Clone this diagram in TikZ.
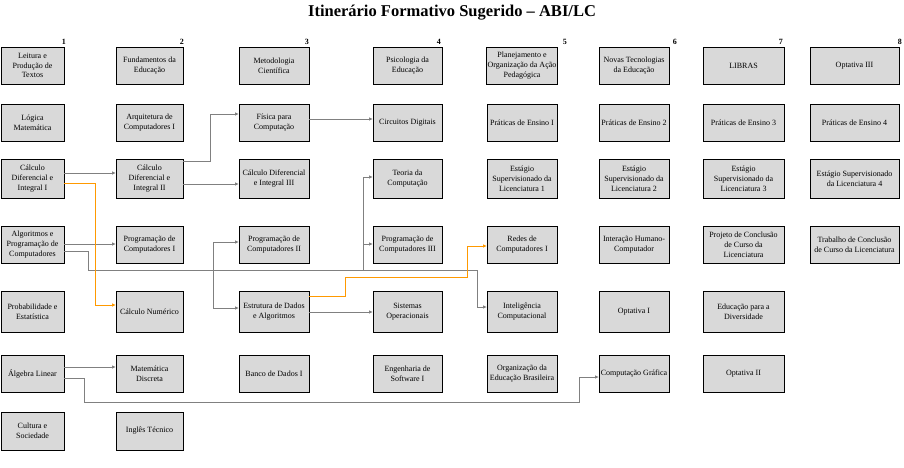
\documentclass[tikz,border=0pt]{standalone}
\usepackage{fontspec}
\setmainfont{Liberation Serif}
\usetikzlibrary{arrows.meta,shadows}
\definecolor{boxgray}{RGB}{217,217,217}
\definecolor{linegray}{RGB}{128,128,128}
\definecolor{lineorange}{RGB}{255,153,0}
\tikzset{
  box/.style={draw=black, fill=boxgray, line width=0.6pt, inner sep=1pt, outer sep=0pt,
    align=center, font=\fontsize{8}{9.8}\selectfont,
    drop shadow={shadow xshift=1pt, shadow yshift=-1pt, opacity=1, fill=black}},
  cA/.style={minimum width=63pt}, cB/.style={minimum width=67pt},
  cC/.style={minimum width=70pt}, cD/.style={minimum width=69pt},
  cE/.style={minimum width=70pt}, cF/.style={minimum width=70pt},
  cG/.style={minimum width=81pt}, cH/.style={minimum width=89pt},
  rA/.style={minimum height=37pt}, rB/.style={minimum height=37pt},
  rC/.style={minimum height=39pt}, rD/.style={minimum height=37pt},
  rE/.style={minimum height=41pt}, rF/.style={minimum height=37pt},
  rG/.style={minimum height=38pt},
  conn/.style={draw=linegray, line width=0.8pt, -{Latex[length=4pt,width=3.5pt]}},
  connO/.style={draw=lineorange, line width=1pt, -{Latex[length=4pt,width=3.5pt]}},
  semnum/.style={font=\bfseries\fontsize{8}{9}\selectfont, anchor=east, inner sep=0pt},
  titlestyle/.style={font=\bfseries\fontsize{16.5}{18}\selectfont, inner sep=0pt}
}
\begin{document}
\begin{tikzpicture}[x=1pt,y=-1pt]
\useasboundingbox (0,0) rectangle (904,468);
\node[titlestyle] (title) at (452,13) {Itinerário Formativo Sugerido -- ABI/LC};
% semester numbers
\node[semnum] (n1) at (66,42) {1};
\node[semnum] (n2) at (184,42) {2};
\node[semnum] (n3) at (309,42) {3};
\node[semnum] (n4) at (441,42) {4};
\node[semnum] (n5) at (567,42) {5};
\node[semnum] (n6) at (677,42) {6};
\node[semnum] (n7) at (783,42) {7};
\node[semnum] (n8) at (902,42) {8};
% row 1
\node[box,cA,rA] (c1r1) at (32.5,65.5) {Leitura e\\Produção de\\Textos};
\node[box,cB,rA] (c2r1) at (149.5,65.5) {Fundamentos da\\Educação};
\node[box,cC,rA] (c3r1) at (274,65.5) {Metodologia\\Científica};
\node[box,cD,rA] (c4r1) at (407.5,65.5) {Psicologia da\\Educação};
\node[box,cE,rA] (c5r1) at (522,65.5) {Planejamento e\\Organização da Ação\\Pedagógica};
\node[box,cF,rA] (c6r1) at (634,65.5) {Novas Tecnologias\\da Educação};
\node[box,cG,rA] (c7r1) at (743.5,65.5) {LIBRAS};
\node[box,cH,rA] (c8r1) at (854.5,65.5) {Optativa III};
% row 2
\node[box,cA,rB] (c1r2) at (32.5,122.5) {Lógica\\Matemática};
\node[box,cB,rB] (c2r2) at (149.5,122.5) {Arquitetura de\\Computadores I};
\node[box,cC,rB] (c3r2) at (274,122.5) {Física para\\Computação};
\node[box,cD,rB] (c4r2) at (407.5,122.5) {Circuitos Digitais};
\node[box,cE,rB] (c5r2) at (522,122.5) {Práticas de Ensino I};
\node[box,cF,rB] (c6r2) at (634,122.5) {Práticas de Ensino 2};
\node[box,cG,rB] (c7r2) at (743.5,122.5) {Práticas de Ensino 3};
\node[box,cH,rB] (c8r2) at (854.5,122.5) {Práticas de Ensino 4};
% row 3
\node[box,cA,rC] (c1r3) at (32.5,178.5) {Cálculo\\Diferencial e\\Integral I};
\node[box,cB,rC] (c2r3) at (149.5,178.5) {Cálculo\\Diferencial e\\Integral II};
\node[box,cC,rC] (c3r3) at (274,178.5) {Cálculo Diferencial\\e Integral III};
\node[box,cD,rC] (c4r3) at (407.5,178.5) {Teoria da\\Computação};
\node[box,cE,rC] (c5r3) at (522,178.5) {Estágio\\Supervisionado da\\Licenciatura 1};
\node[box,cF,rC] (c6r3) at (634,178.5) {Estágio\\Supervisionado da\\Licenciatura 2};
\node[box,cG,rC] (c7r3) at (743.5,178.5) {Estágio\\Supervisionado da\\Licenciatura 3};
\node[box,cH,rC] (c8r3) at (854.5,178.5) {Estágio Supervisionado\\da Licenciatura 4};
% row 4
\node[box,cA,rD] (c1r4) at (32.5,244.5) {Algoritmos e\\Programação de\\Computadores};
\node[box,cB,rD] (c2r4) at (149.5,244.5) {Programação de\\Computadores I};
\node[box,cC,rD] (c3r4) at (274,244.5) {Programação de\\Computadores II};
\node[box,cD,rD] (c4r4) at (407.5,244.5) {Programação de\\Computadores III};
\node[box,cE,rD] (c5r4) at (522,244.5) {Redes de\\Computadores I};
\node[box,cF,rD] (c6r4) at (634,244.5) {Interação Humano-\\Computador};
\node[box,cG,rD] (c7r4) at (743.5,244.5) {Projeto de Conclusão\\de Curso da\\Licenciatura};
\node[box,cH,rD] (c8r4) at (854.5,244.5) {Trabalho de Conclusão\\de Curso da Licenciatura};
% row 5
\node[box,cA,rE] (c1r5) at (32.5,311.5) {Probabilidade e\\Estatística};
\node[box,cB,rE] (c2r5) at (149.5,311.5) {Cálculo Numérico};
\node[box,cC,rE] (c3r5) at (274,311.5) {Estrutura de Dados\\e Algoritmos};
\node[box,cD,rE] (c4r5) at (407.5,311.5) {Sistemas\\Operacionais};
\node[box,cE,rE] (c5r5) at (522,311.5) {Inteligência\\Computacional};
\node[box,cF,rE] (c6r5) at (634,311.5) {Optativa I};
\node[box,cG,rE] (c7r5) at (743.5,311.5) {Educação para a\\Diversidade};
% row 6
\node[box,cA,rF] (c1r6) at (32.5,373.5) {Álgebra Linear};
\node[box,cB,rF] (c2r6) at (149.5,373.5) {Matemática\\Discreta};
\node[box,cC,rF] (c3r6) at (274,373.5) {Banco de Dados I};
\node[box,cD,rF] (c4r6) at (407.5,373.5) {Engenharia de\\Software I};
\node[box,cE,rF] (c5r6) at (522,373.5) {Organização da\\Educação Brasileira};
\node[box,cF,rF] (c6r6) at (634,373.5) {Computação Gráfica};
\node[box,cG,rF] (c7r6) at (743.5,373.5) {Optativa II};
% row 7
\node[box,cA,rG] (c1r7) at (32.5,431) {Cultura e\\Sociedade};
\node[box,cB,rG] (c2r7) at (149.5,431) {Inglês Técnico};
% bus coordinates
\coordinate (b1) at (88,270);
\coordinate (b2) at (213,270);
\coordinate (b3) at (363,270);
\coordinate (b4) at (477,270);
\coordinate (o1) at (345,277);
\coordinate (o2) at (467,277);
\coordinate (g1) at (84,402);
\coordinate (g2) at (579,402);
% gray connectors
\draw[conn] ([yshift=5.5pt]c1r3.east) -- ([yshift=5.5pt]c2r3.west);
\draw[conn] ([yshift=-5.5pt]c2r3.east) -- ([yshift=-5.5pt]c3r3.west);
\draw[conn] ([yshift=17pt]c2r3.east) -- ++(27,0) |- ([yshift=8.5pt]c3r2.west);
\draw[conn] ([yshift=3.5pt]c3r2.east) -- ([yshift=3.5pt]c4r2.west);
\draw[conn] ([yshift=0.5pt]c1r4.east) -- ([yshift=0.5pt]c2r4.west);
\draw[conn] ([yshift=-6.5pt]c1r4.east) -| (b1) -- (b4) |- ([yshift=4.5pt]c5r5.west);
\draw[conn] (b2) |- ([yshift=2.5pt]c3r4.west);
\draw[conn] (b2) |- ([yshift=3.5pt]c3r5.west);
\draw[conn] (b3) |- ([yshift=1.5pt]c4r3.west);
\draw[conn] (b3) |- ([yshift=0.5pt]c4r4.west);
\draw[conn] ([yshift=-0.5pt]c3r5.east) -- ([yshift=-0.5pt]c4r5.west);
\draw[conn] ([yshift=6.5pt]c1r6.east) -- ([yshift=6.5pt]c2r6.west);
\draw[conn] ([yshift=-4.5pt]c1r6.east) -| (g1) -- (g2) |- ([yshift=-3.5pt]c6r6.west);
% orange connectors
\draw[connO] ([yshift=-4.5pt]c1r3.east) -- ++(31,0) |- ([yshift=6.5pt]c2r5.west);
\draw[connO] ([yshift=15.5pt]c3r5.east) -| (o1) -- (o2) |- ([yshift=-1.5pt]c5r4.west);
\end{tikzpicture}
\end{document}
